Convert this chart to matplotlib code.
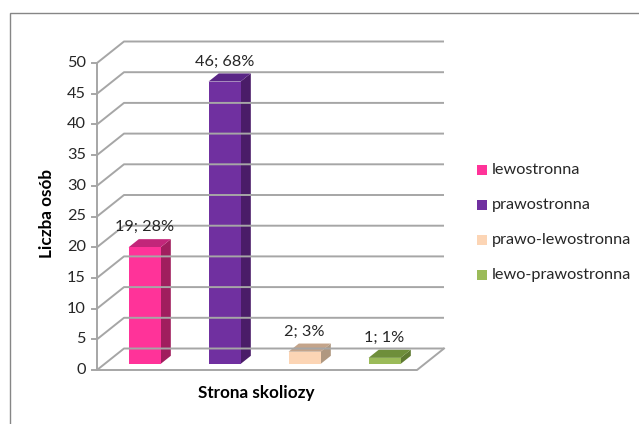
import matplotlib
matplotlib.use("Agg")
import matplotlib.pyplot as plt
from matplotlib.patches import Polygon, Rectangle

plt.rcParams['font.family'] = ['Lato', 'DejaVu Sans']

# dane
kategorie = ['lewostronna', 'prawostronna', 'prawo-lewostronna', 'lewo-prawostronna']
liczby = [19, 46, 2, 1]
procenty = [28, 68, 3, 1]
kolory_przod = ['#FF3399', '#7030A0', '#FCD5B5', '#9BBB59']
kolory_bok = ['#A01E5E', '#4A1C68', '#B09880', '#5F7A32']
kolory_gora = ['#C2267A', '#5A2686', '#C4A48A', '#6E8E3A']
y_ticks = list(range(0, 55, 5))

W, H = 639, 424
fig = plt.figure(figsize=(W / 100, H / 100), dpi=100)

# obszar "przedniej" płaszczyzny wykresu w pikselach
x0_px, y0_px, w_px, h_px = 97, 424 - 370, 320, 307
ax = fig.add_axes([x0_px / W, y0_px / H, w_px / W, h_px / H])
ax.set_xlim(0, len(kategorie))
ax.set_ylim(0, 50)
ax.axis('off')

# wektor głębokości (perspektywa 3D) w jednostkach danych
DX = 27 / (w_px / len(kategorie))
DY = 21.5 / (h_px / 50)


def p(x, y, d):
    return (x + d * DX, y + d * DY)


grid = '#A6A6A6'
lw = 1.4
fs = 11.7

# siatka: ściana tylna i boczna
for t in y_ticks:
    ax.plot(*zip(p(0, t, 0), p(0, t, 1), p(len(kategorie), t, 1)),
            color=grid, lw=lw, clip_on=False, solid_capstyle='butt')
    ax.plot([-0.06, 0], [t, t], color=grid, lw=lw, clip_on=False)
    ax.text(-0.14, t, str(t), ha='right', va='center', fontsize=fs,
            color='#262626')

# oś pionowa i podłoga
ax.plot([0, 0], [0, 50], color=grid, lw=lw, clip_on=False)
n = len(kategorie)
ax.plot(*zip(p(0, 0, 0), p(n, 0, 0), p(n, 0, 1)), color=grid, lw=lw,
        clip_on=False)

# słupki 3D
f1, f2 = 0.28, 0.66
bw = 0.4
for i, v in enumerate(liczby):
    xa = i + 0.5 - bw / 2
    xb = i + 0.5 + bw / 2
    bok = [p(xb, 0, f1), p(xb, 0, f2), p(xb, v, f2), p(xb, v, f1)]
    gora = [p(xa, v, f1), p(xb, v, f1), p(xb, v, f2), p(xa, v, f2)]
    przod = [p(xa, 0, f1), p(xb, 0, f1), p(xb, v, f1), p(xa, v, f1)]
    for pts, c in ((bok, kolory_bok[i]), (gora, kolory_gora[i]),
                   (przod, kolory_przod[i])):
        ax.add_patch(Polygon(pts, closed=True, facecolor=c, edgecolor='none',
                             clip_on=False))
    xc, yc = p(i + 0.5, v, f1)
    ax.text(xc, yc + 3.25, f'{v}; {procenty[i]}%', ha='center', va='center',
            fontsize=fs, color='#262626')

# podpisy osi
fig.text(47 / W, 1 - 214 / H, 'Liczba osób', rotation=90, ha='center',
         va='center', fontsize=12.3, fontweight='bold', color='#000000')
fig.text(256 / W, 1 - 393 / H, 'Strona skoliozy', ha='center', va='center',
         fontsize=12.3, fontweight='bold', color='#000000')

# legenda
for i, nazwa in enumerate(kategorie):
    yy = 1 - (170 + 35 * i) / H
    fig.patches.append(Rectangle((477 / W, yy - 5 / H), 10 / W, 10 / H,
                                 transform=fig.transFigure,
                                 facecolor=kolory_przod[i], edgecolor='none'))
    fig.text(492 / W, yy, nazwa, ha='left', va='center', fontsize=fs,
             color='#262626')

# ramka wykresu
fig.patches.append(Rectangle((10 / W, -0.1), 1.1, 1 - 13 / H + 0.1,
                             transform=fig.transFigure, fill=False,
                             edgecolor='#868686', lw=1.0))

fig.savefig('out.png', dpi=100)
